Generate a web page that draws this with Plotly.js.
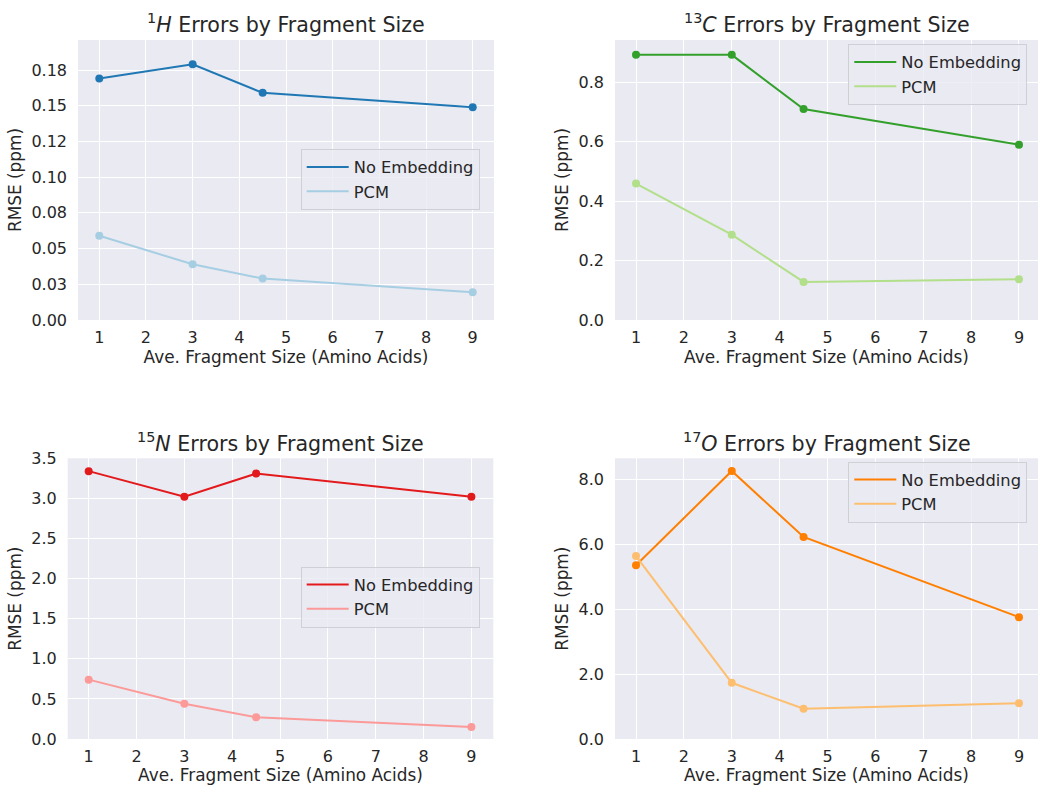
<!DOCTYPE html>
<html>
<head>
<meta charset="utf-8">
<script src="https://cdn.plot.ly/plotly-3.0.1.min.js"></script>
<style>
  html, body { margin: 0; padding: 0; background: #ffffff; }
  #chart { width: 1038px; height: 785px; }
</style>
</head>
<body>
<div id="chart"></div>
<script>
// Average fragment size (amino acids) for each fragmentation scheme
const fragSize = [1, 3, 4.5, 9];

// RMSE (ppm) per nucleus, without embedding and with PCM embedding
const hNoEmbedding = [0.169, 0.179, 0.159, 0.149];
const hPCM = [0.059, 0.039, 0.029, 0.0195];
const cNoEmbedding = [0.892, 0.892, 0.710, 0.590];
const cPCM = [0.459, 0.287, 0.128, 0.137];
const nNoEmbedding = [3.34, 3.02, 3.31, 3.02];
const nPCM = [0.74, 0.44, 0.27, 0.15];
const oNoEmbedding = [5.35, 8.25, 6.22, 3.75];
const oPCM = [5.63, 1.73, 0.93, 1.10];

// Panel titles and series names
const panelTitles = [
  '<sup>1</sup><i>H</i> Errors by Fragment Size',
  '<sup>13</sup><i>C</i> Errors by Fragment Size',
  '<sup>15</sup><i>N</i> Errors by Fragment Size',
  '<sup>17</sup><i>O</i> Errors by Fragment Size'
];
const seriesNames = ['No Embedding', 'PCM'];
const xTickVals = [1, 2, 3, 4, 5, 6, 7, 8, 9];
const hTickVals = [0, 0.025, 0.05, 0.075, 0.1, 0.125, 0.15, 0.175];
const hTickText = ['0.00', '0.03', '0.05', '0.08', '0.10', '0.12', '0.15', '0.18'];
const xLabel = 'Ave. Fragment Size (Amino Acids)';
const yLabel = 'RMSE (ppm)';

const W = 1038, H = 785;
const TEXT = '#262626';
const FONT = 'DejaVu Sans, Verdana, sans-serif';
const px = v => v / W;
const py = v => 1 - v / H;

// Panel geometry in pixels: [left, right, top, bottom]
const boxes = [
  [78, 494, 40, 320],
  [615, 1038, 40, 320],
  [67.7, 493.3, 458.3, 739],
  [615, 1038, 458.3, 739]
];

const panels = [
  { noEmb: hNoEmbedding, pcm: hPCM, c1: '#1f78b4', c2: '#a6cee3', xr: [0.544, 9.456], yr: [0, 0.196] },
  { noEmb: cNoEmbedding, pcm: cPCM, c1: '#33a02c', c2: '#b2df8a', xr: [0.561, 9.397], yr: [0, 0.942] },
  { noEmb: nNoEmbedding, pcm: nPCM, c1: '#e31a1c', c2: '#fb9a99', xr: [0.561, 9.458], yr: [0, 3.5] },
  { noEmb: oNoEmbedding, pcm: oPCM, c1: '#ff7f00', c2: '#fdbf6f', xr: [0.561, 9.397], yr: [0, 8.64] }
];

// Legend boxes: [left, top]
const legendPos = [
  [300.7, 149],
  [848.3, 44],
  [300.7, 566.5],
  [848.3, 461.5]
];

const traces = [];
const layout = {
  width: W, height: H,
  margin: { l: 0, r: 0, t: 0, b: 0 },
  paper_bgcolor: '#ffffff',
  plot_bgcolor: '#EAEAF2',
  font: { family: FONT, color: TEXT, size: 16 },
  annotations: []
};

panels.forEach((p, i) => {
  const n = i + 1;
  const xa = n === 1 ? 'x' : 'x' + n;
  const ya = n === 1 ? 'y' : 'y' + n;
  const lg = n === 1 ? 'legend' : 'legend' + n;
  const [l, r, t, b] = boxes[i];

  [[p.noEmb, p.c1, seriesNames[0]], [p.pcm, p.c2, seriesNames[1]]].forEach(([vals, col, name]) => {
    traces.push({
      x: fragSize, y: vals, xaxis: xa, yaxis: ya, legend: lg,
      type: 'scatter', mode: 'lines', name: name,
      line: { color: col, width: 2 }, hoverinfo: 'skip'
    });
    traces.push({
      x: fragSize, y: vals, xaxis: xa, yaxis: ya, legend: lg,
      type: 'scatter', mode: 'markers', name: name, showlegend: false,
      marker: { color: col, size: 8 }, hoverinfo: 'skip'
    });
  });

  const axisCommon = {
    showgrid: true, gridcolor: '#ffffff', gridwidth: 1,
    zeroline: false, showline: false, ticks: '',
    tickfont: { family: FONT, color: TEXT, size: 16 },
    automargin: false, fixedrange: true
  };
  layout['xaxis' + (n === 1 ? '' : n)] = Object.assign({}, axisCommon, {
    domain: [px(l), px(r)], range: p.xr, anchor: ya,
    tickmode: 'array', tickvals: xTickVals, ticklabelstandoff: 6,
    title: { text: xLabel, font: { family: FONT, color: TEXT, size: 16.9 }, standoff: 3 }
  });
  const yax = Object.assign({}, axisCommon, {
    domain: [py(b), py(t)], range: p.yr, anchor: xa, ticklabelstandoff: 10,
    title: { text: yLabel, font: { family: FONT, color: TEXT, size: 16.9 }, standoff: 5 }
  });
  if (i === 0) {
    yax.tickmode = 'array'; yax.tickvals = hTickVals; yax.ticktext = hTickText;
  } else {
    yax.tickformat = '.1f';
    yax.dtick = [0, 0.2, 0.5, 2][i];
    yax.tick0 = 0;
  }
  layout['yaxis' + (n === 1 ? '' : n)] = yax;

  layout[lg] = {
    x: px(legendPos[i][0]), y: py(legendPos[i][1]),
    xanchor: 'left', yanchor: 'top', xref: 'paper', yref: 'paper',
    bgcolor: 'rgba(234,234,242,0.8)', bordercolor: '#cfcfd6', borderwidth: 1,
    font: { family: FONT, color: TEXT, size: 16.3 },
    tracegroupgap: 0, itemwidth: 42, entrywidth: 148
  };

  const cx = (l + r) / 2;
  const titleY = i < 2 ? 24 : 442.5;
  layout.annotations.push({
    text: panelTitles[i], xref: 'paper', yref: 'paper',
    x: px(cx), y: py(titleY), xanchor: 'center', yanchor: 'middle',
    showarrow: false, font: { family: FONT, color: TEXT, size: 20.6 }
  });
});

Plotly.newPlot('chart', traces, layout, { staticPlot: true, displayModeBar: false });
</script>
</body>
</html>
